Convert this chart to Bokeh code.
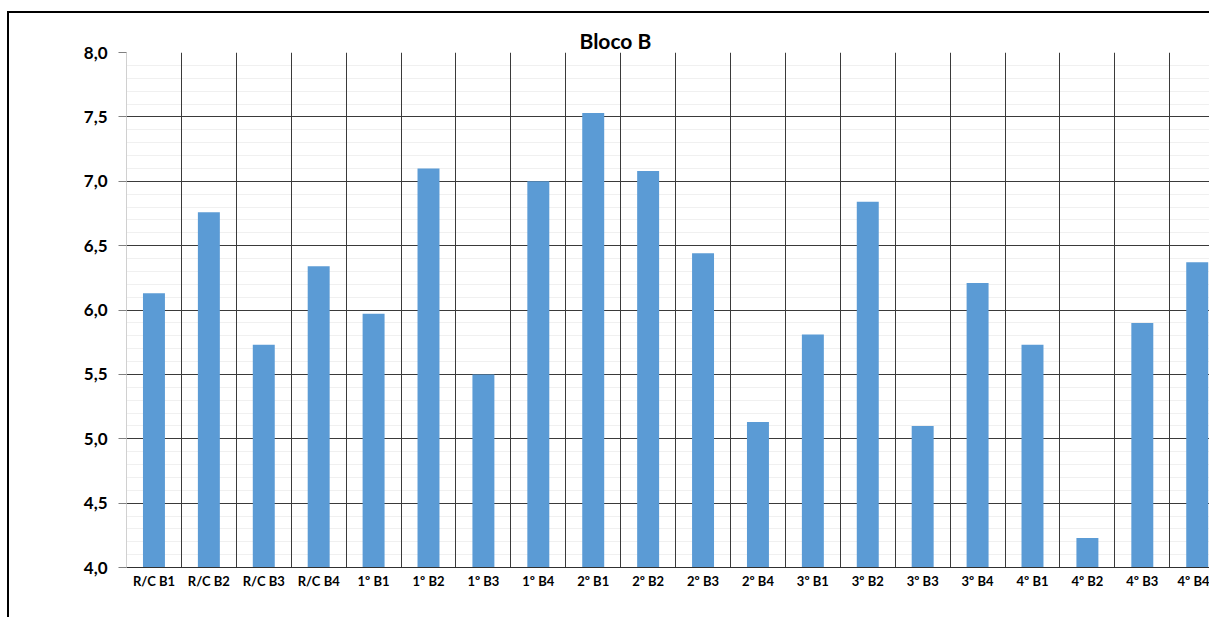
from bokeh.plotting import figure
from bokeh.models import Range1d, FixedTicker, CustomJSTickFormatter
from bokeh.embed import file_html
from bokeh.resources import INLINE
import numpy as np

# Categories and averages for "Bloco B"
categories = ["R/C B1", "R/C B2", "R/C B3", "R/C B4",
              "1º B1", "1º B2", "1º B3", "1º B4",
              "2º B1", "2º B2", "2º B3", "2º B4",
              "3º B1", "3º B2", "3º B3", "3º B4",
              "4º B1", "4º B2", "4º B3", "4º B4"]
values = [6.13, 6.76, 5.73, 6.34,
          5.97, 7.10, 5.50, 7.00,
          7.53, 7.08, 6.44, 5.13,
          5.81, 6.84, 5.10, 6.21,
          5.73, 4.23, 5.90, 6.37]
y_ticks = [4.0, 4.5, 5.0, 5.5, 6.0, 6.5, 7.0, 7.5, 8.0]

FONT = "Lato"
BAR = "#5B9BD5"
GRID = "#3a3a3a"

x = np.arange(len(categories)) + 0.5

p = figure(width=1202, height=606, output_backend="svg", toolbar_location=None,
           x_range=Range1d(0, 19.76), y_range=Range1d(4.0, 8.0),
           min_border_left=117, min_border_right=0, min_border_top=39,
           min_border_bottom=52)
p.styles = {"border-left": "2px solid black", "border-top": "2px solid black",
            "margin-left": "7px", "margin-top": "11px"}

p.title.text = "Bloco B"
p.title.text_font = FONT
p.title.text_font_size = "21px"
p.title.text_font_style = "bold"
p.title.text_color = "black"
p.title.align = "left"
p.title.offset = 453
p.title.standoff = 0

p.outline_line_color = None
p.background_fill_color = "white"
p.border_fill_color = "white"

p.vbar(x=x, top=values, bottom=4.0, width=0.4, fill_color=BAR, line_color=None)

# horizontal grid: light minor lines every 0.1, dark major lines every 0.5
minor = [round(4.0 + 0.1 * i, 1) for i in range(41)]
p.ygrid.ticker = FixedTicker(ticks=y_ticks, minor_ticks=minor)
p.ygrid.grid_line_color = GRID
p.ygrid.minor_grid_line_color = "#f0f0f0"
p.ygrid.level = "underlay"

# vertical separators between categories, drawn over the minor lines
p.xgrid.ticker = FixedTicker(ticks=list(range(1, len(categories))))
p.xgrid.grid_line_color = GRID
p.xgrid.grid_line_width = 1
p.xgrid.level = "glyph"

# y axis
p.yaxis.ticker = FixedTicker(ticks=y_ticks)
p.yaxis.formatter = CustomJSTickFormatter(code="return tick.toFixed(1).replace('.', ',');")
p.yaxis.major_label_text_font = FONT
p.yaxis.major_label_text_font_size = "17px"
p.yaxis.major_label_text_font_style = "bold"
p.yaxis.major_label_text_color = "black"
p.yaxis.axis_line_color = "#d0d0d0"
p.yaxis.major_tick_in = 0
p.yaxis.major_tick_out = 8
p.yaxis.major_tick_line_color = "#808080"
p.yaxis.minor_tick_out = 0
p.yaxis.minor_tick_in = 0
p.yaxis.major_label_standoff = 11

# x axis
p.xaxis.ticker = FixedTicker(ticks=list(x))
p.xaxis.major_label_overrides = {float(v): c for v, c in zip(x, categories)}
p.xaxis.major_label_text_font = FONT
p.xaxis.major_label_text_font_size = "13px"
p.xaxis.major_label_text_font_style = "bold"
p.xaxis.major_label_text_color = "black"
p.xaxis.axis_line_color = "#303030"
p.xaxis.major_tick_in = 0
p.xaxis.major_tick_out = 0
p.xaxis.minor_tick_in = 0
p.xaxis.minor_tick_out = 0
p.xaxis.major_label_standoff = 5

open("out.html", "w").write(file_html(p, INLINE))
